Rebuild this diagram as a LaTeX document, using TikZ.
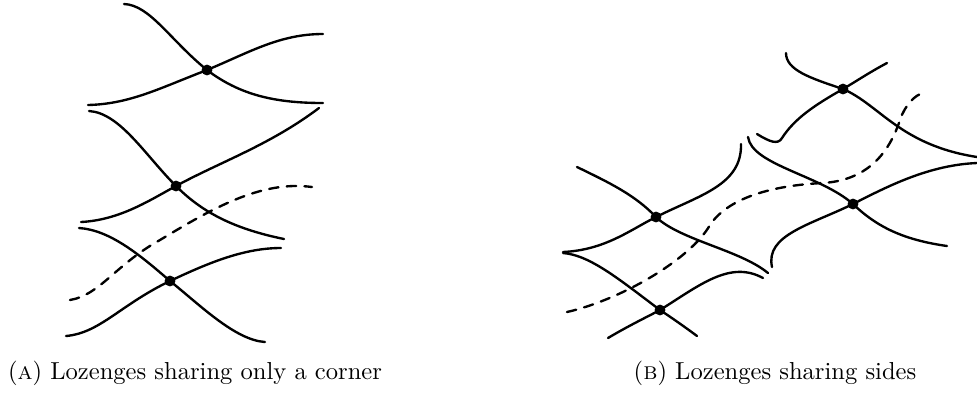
\documentclass[tikz,border=0pt]{standalone}
\usepackage{tikz}
\usetikzlibrary{positioning}
\begin{document}
\begin{tikzpicture}[x=0.4235pt, y=-0.4235pt, line cap=round,
  side/.style={line width=1pt},
  path/.style={line width=1pt, dash pattern=on 4pt off 3.5pt},
  dot/.style={circle, fill=black, inner sep=0pt, minimum size=4.6pt},
  capt/.style={font=\fontsize{10.4}{12}\selectfont, inner sep=0pt}]
  \useasboundingbox (0,0) rectangle (977,396);
  % ---------- (a) corner ----------
  \node[dot] (a1) at (207,70) {};
  \node[dot] (a2) at (176,186) {};
  \node[dot] (a3) at (170,281) {};
  \draw[side] (124,4) .. controls (150,5) and (170,40) .. (a1.center)
    .. controls (240,95) and (275,103) .. (323,103);
  \draw[side] (88,105) .. controls (130,104) and (160,88) .. (a1.center)
    .. controls (250,52) and (280,34) .. (323,34);
  \draw[side] (89,111) .. controls (120,113) and (145,155) .. (a2.center)
    .. controls (200,210) and (230,228) .. (284,239);
  \draw[side] (81,222) .. controls (120,220) and (150,200) .. (a2.center)
    .. controls (220,162) and (270,145) .. (319,108);
  \draw[side] (79,228) .. controls (110,230) and (140,255) .. (a3.center)
    .. controls (200,305) and (235,340) .. (265,342);
  \draw[side] (66,336) .. controls (100,333) and (120,305) .. (a3.center)
    .. controls (210,262) and (245,248) .. (281,248);
  \draw[path] (70,300) .. controls (100,295) and (115,265) .. (160,240)
    .. controls (210,210) and (260,180) .. (312,187);
  \node[capt] (capa) at (195,373) {(\textsc{a}) Lozenges sharing only a corner};
  % ---------- (b) sides ----------
  \node[dot] (b1) at (843,89) {};
  \node[dot] (b2) at (656,217) {};
  \node[dot] (b3) at (853,204) {};
  \node[dot] (b4) at (660,310) {};
  \draw[side] (786,53) .. controls (786,70) and (810,78) .. (b1.center)
    .. controls (880,105) and (900,145) .. (977,157);
  \draw[side] (887,63) .. controls (870,72) and (855,82) .. (b1.center)
    .. controls (815,105) and (795,118) .. (782,138)
    .. controls (778,145) and (770,142) .. (757,134);
  \draw[side] (748,137) .. controls (752,165) and (820,175) .. (b3.center)
    .. controls (878,228) and (905,240) .. (947,246);
  \draw[side] (977,163) .. controls (930,165) and (890,185) .. (b3.center)
    .. controls (810,225) and (765,235) .. (772,267);
  \draw[side] (577,167) .. controls (610,183) and (635,195) .. (b2.center)
    .. controls (680,240) and (740,250) .. (768,273);
  \draw[side] (563,252) .. controls (605,250) and (630,230) .. (b2.center)
    .. controls (700,195) and (742,185) .. (741,144);
  \draw[side] (563,253) .. controls (590,255) and (620,280) .. (b4.center)
    .. controls (672,318) and (685,327) .. (697,336);
  \draw[side] (608,338) .. controls (630,325) and (645,318) .. (b4.center)
    .. controls (700,285) and (730,260) .. (763,278);
  \draw[path] (567,312) .. controls (620,300) and (690,260) .. (710,225)
    .. controls (730,195) and (780,185) .. (823,183)
    .. controls (870,180) and (890,150) .. (900,120)
    .. controls (905,105) and (915,95) .. (923,93);
  \node[capt] (capb) at (775,373) {(\textsc{b}) Lozenges sharing sides};
\end{tikzpicture}
\end{document}
